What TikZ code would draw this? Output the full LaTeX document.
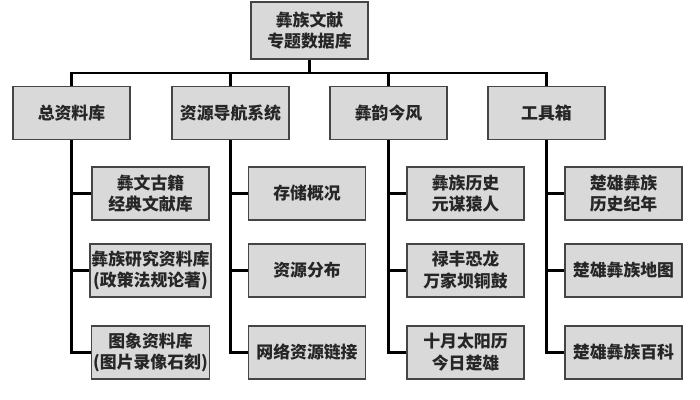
\documentclass[tikz,border=0pt]{standalone}
\usepackage{fontspec}
\newfontfamily\cjk{Noto Sans CJK SC}
\usepackage{tikz}

\definecolor{boxfill}{HTML}{D9D9D9}
\definecolor{boxline}{HTML}{454545}

\tikzset{
  box/.style={draw=boxline, line width=1pt, fill=boxfill, align=center,
    minimum width=2.925cm, minimum height=1.32cm, inner sep=1pt,
    font=\cjk\bfseries\fontsize{12}{15.5}\selectfont, text=black!85},
  link/.style={black, line width=1.5pt}
}

\begin{document}
\begin{tikzpicture}[x=0.025cm, y=-0.025cm]
  \useasboundingbox (0,0) rectangle (700,400);

  % root and first level
  \node[box, minimum height=1.43cm] (root) at (309.5,30.5) {彝族文献\\专题数据库};
  \node[box] (zong) at (71.5,113) {总资料库};
  \node[box] (daohang) at (230.5,113) {资源导航系统};
  \node[box] (yiyun) at (388.5,113) {彝韵今风};
  \node[box] (gongju) at (546.5,113) {工具箱};

  % second level
  \node[box] (zong1) at (150.5,193.5) {彝文古籍\\经典文献库};
  \node[box] (zong2) at (150.5,270.5) {彝族研究资料库\\(政策法规论著)};
  \node[box] (zong3) at (150.5,352.5) {图象资料库\\(图片录像石刻)};
  \node[box] (daohang1) at (307,193.5) {存储概况};
  \node[box] (daohang2) at (307,270.5) {资源分布};
  \node[box] (daohang3) at (307,352.5) {网络资源链接};
  \node[box] (yiyun1) at (465.5,193.5) {彝族历史\\元谋猿人};
  \node[box] (yiyun2) at (465.5,270.5) {禄丰恐龙\\万家坝铜鼓};
  \node[box] (yiyun3) at (465.5,352.5) {十月太阳历\\今日楚雄};
  \node[box] (gongju1) at (623.5,193.5) {楚雄彝族\\历史纪年};
  \node[box] (gongju2) at (623.5,270.5) {楚雄彝族地图};
  \node[box] (gongju3) at (623.5,352.5) {楚雄彝族百科};

  % connectors
  \coordinate (busL) at (71.5,73);
  \coordinate (busR) at (546.5,73);
  \draw[link] (root.south) -- (root.south |- busL);
  \draw[link, line cap=rect] (busL) -- (busR);
  \foreach \t in {zong,daohang,yiyun,gongju} {
    \draw[link] (\t.north) -- (\t.north |- busL);
    \draw[link] (\t.south) |- (\t3.west);
    \draw[link] (\t1.west -| \t.south) -- (\t1.west);
    \draw[link] (\t2.west -| \t.south) -- (\t2.west);
  }
\end{tikzpicture}
\end{document}
